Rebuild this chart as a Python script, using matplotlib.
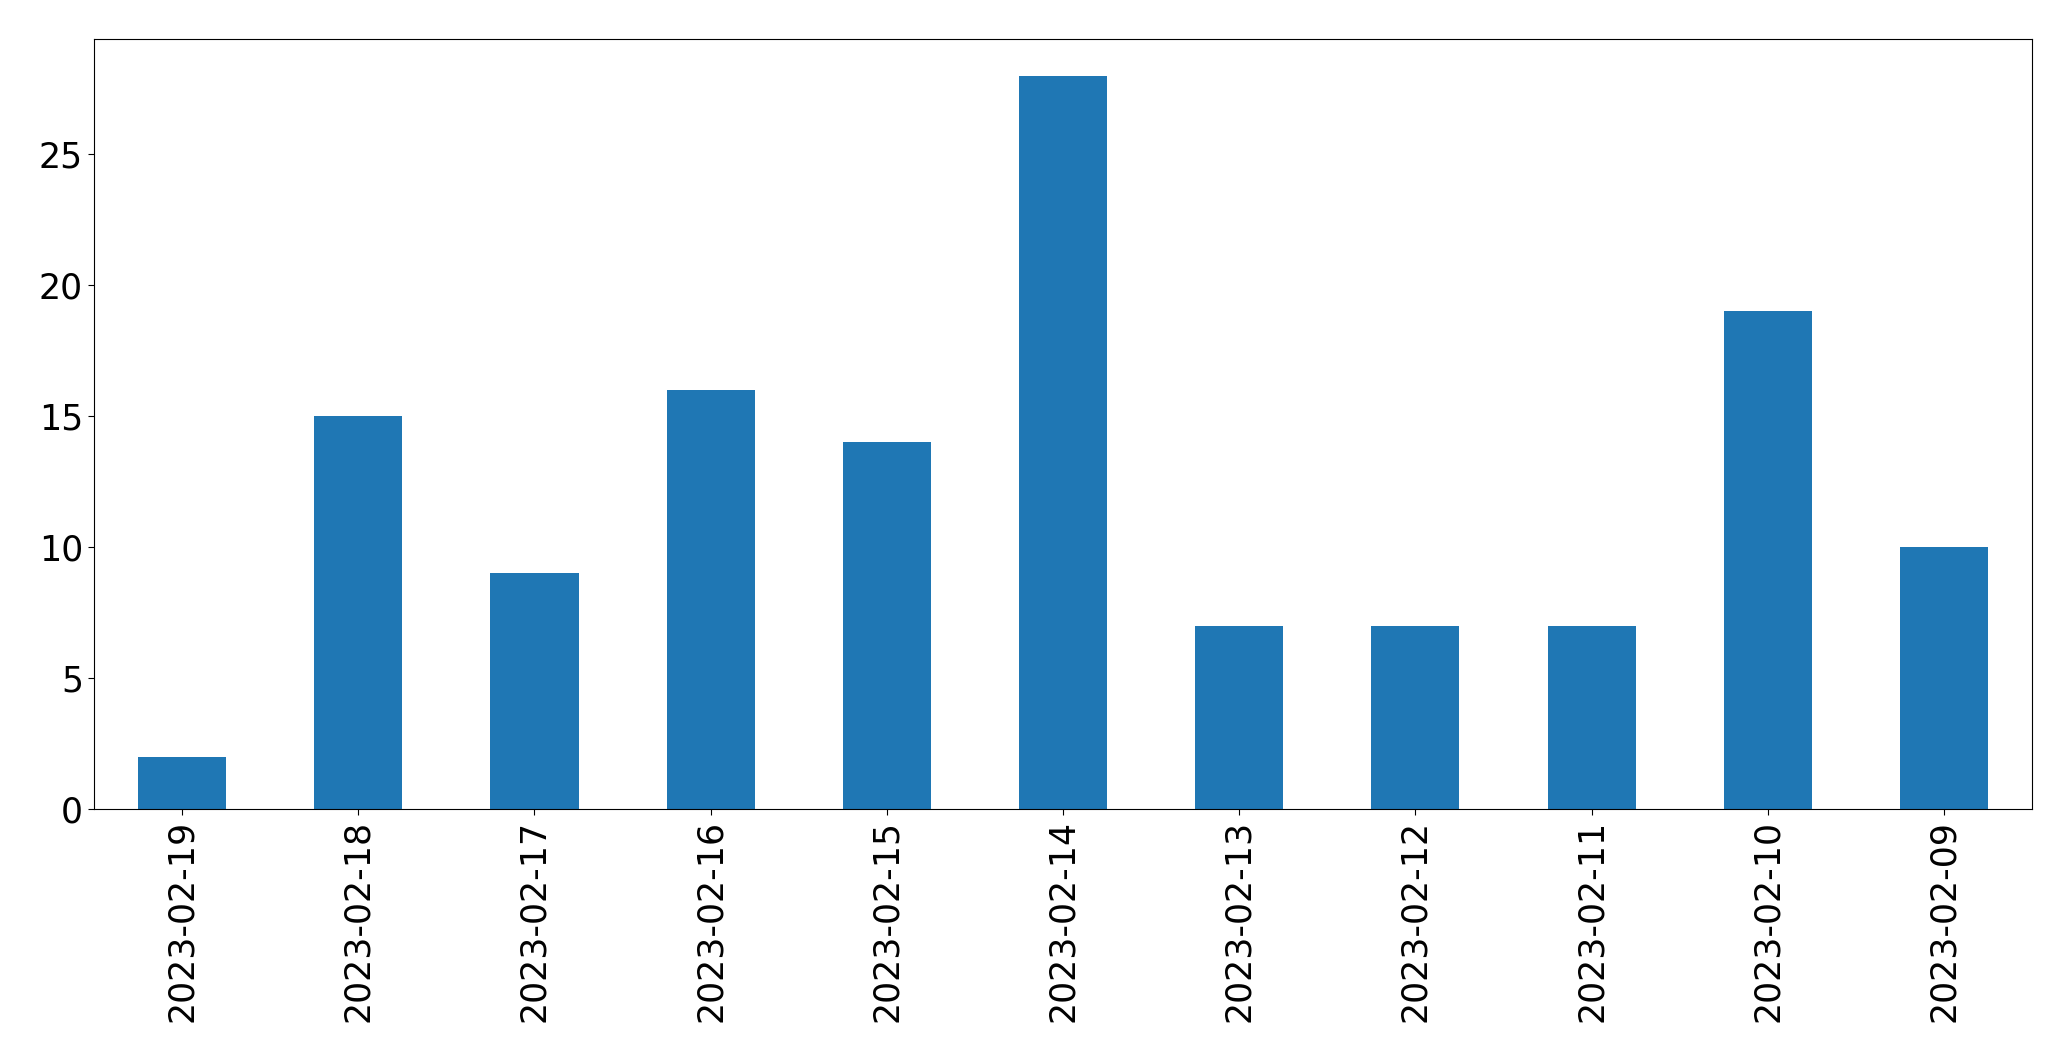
import matplotlib
matplotlib.use("Agg")
import matplotlib.pyplot as plt
import pandas as pd

dates = ["2023-02-19", "2023-02-18", "2023-02-17", "2023-02-16", "2023-02-15",
         "2023-02-14", "2023-02-13", "2023-02-12", "2023-02-11", "2023-02-10",
         "2023-02-09"]
counts = [2, 15, 9, 16, 14, 28, 7, 7, 7, 19, 10]

fig = plt.figure(figsize=(20.71, 10.61), dpi=100)
ax = fig.add_axes([94/2071, 1 - 809/1061, (2032-94)/2071, (809-39)/1061])
s = pd.Series(counts, index=dates)
s.plot(kind="bar", ax=ax, color="#1f77b4")
ax.tick_params(axis="both", labelsize=25, length=4.5)
ax.set_xlabel("")
fig.savefig("out.png", dpi=100)
